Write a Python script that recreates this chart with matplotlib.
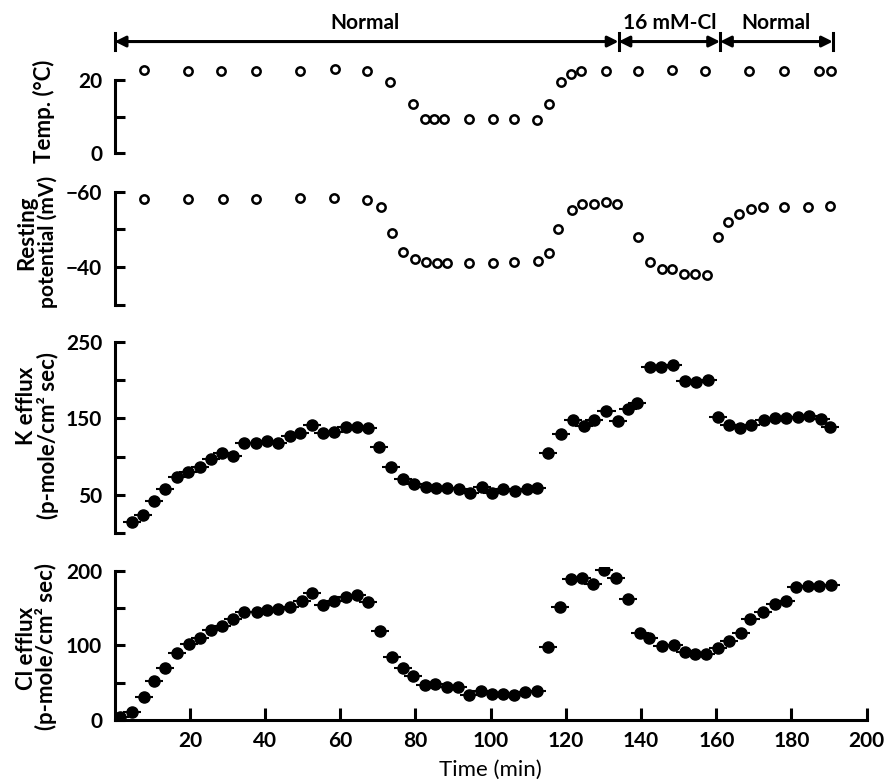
import matplotlib.pyplot as plt
import matplotlib.transforms as mtransforms

plt.rcParams['font.family'] = ['Lato', 'DejaVu Sans']
plt.rcParams['font.weight'] = 'bold'

# Temperature (open circles)
temp_t = [7.8, 19.6, 28.3, 37.6, 49.4, 58.5, 67.2, 73.2, 79.4, 82.5, 84.9, 87.6, 94.2, 100.5,
          106.3, 112.2, 115.6, 118.7, 121.3, 124.0, 130.7, 139.3, 148.2, 157.0, 168.6, 178.0,
          187.2, 190.5]
temp_c = [22.7, 22.4, 22.4, 22.4, 22.4, 23.0, 22.4, 19.5, 13.4, 9.4, 9.4, 9.4, 9.4, 9.4,
          9.4, 9.1, 13.4, 19.5, 21.6, 22.3, 22.4, 22.4, 22.7, 22.4, 22.4, 22.4, 22.4, 22.4]

# Resting potential (open circles)
pot_t = [7.8, 19.6, 28.7, 37.6, 49.4, 58.2, 67.2, 70.7, 73.7, 76.8, 79.9, 82.7, 85.6, 88.5,
         94.2, 100.5, 106.3, 112.6, 115.4, 117.9, 121.5, 124.3, 127.5, 130.7, 133.7, 139.2,
         142.5, 145.6, 148.2, 151.3, 154.4, 157.4, 160.4, 163.1, 166.0, 169.2, 172.3, 178.0,
         184.3, 190.2]
pot_mv = [-58.0, -58.0, -58.0, -58.0, -58.2, -58.3, -57.8, -55.8, -49.0, -44.1, -42.3, -41.3,
          -41.0, -41.0, -41.2, -41.2, -41.4, -41.6, -43.7, -50.1, -55.2, -56.8, -56.8, -57.2,
          -56.8, -48.1, -41.3, -39.5, -39.5, -38.2, -38.3, -38.0, -48.1, -51.9, -54.0, -55.3,
          -55.8, -55.8, -55.8, -56.2]

# K efflux (filled circles)
k_t = [4.7, 7.6, 10.5, 13.4, 16.6, 19.6, 22.7, 25.5, 28.5, 31.5, 34.5, 37.5, 40.4, 43.5,
       46.6, 49.3, 52.4, 55.3, 58.4, 61.5, 64.4, 67.4, 70.3, 73.5, 76.8, 79.7, 82.8, 85.5,
       88.5, 91.6, 94.5, 97.6, 100.3, 103.2, 106.5, 109.6, 112.4, 115.3, 118.7, 122.0, 124.8,
       127.6, 130.8, 133.8, 136.6, 139.0, 142.5, 145.2, 148.4, 151.7, 154.5, 157.7, 160.5,
       163.4, 166.3, 169.2, 172.7, 175.6, 178.5, 181.8, 184.7, 187.8, 190.2]
k_flux = [14.4, 23.9, 42.2, 57.8, 73.9, 80.4, 86.1, 97.4, 105.2, 100.9, 117.4, 117.4, 120.4,
          118.2, 127.0, 130.5, 141.3, 130.5, 131.8, 139.1, 138.3, 137.0, 112.2, 86.1, 70.9,
          64.3, 60.9, 58.7, 58.7, 57.4, 52.2, 60.9, 52.2, 57.8, 55.7, 57.4, 58.7, 105.2, 129.6,
          147.8, 140.0, 147.8, 160.0, 146.9, 161.7, 169.6, 217.3, 216.6, 219.6, 199.1, 197.0,
          200.0, 151.3, 141.3, 137.0, 141.3, 147.8, 150.0, 150.9, 151.3, 153.5, 149.1, 138.3]

# Cl efflux (filled circles)
cl_t = [1.4, 4.5, 7.8, 10.5, 13.4, 16.6, 19.8, 22.7, 25.5, 28.5, 31.5, 34.5, 37.8, 40.4,
        43.5, 46.6, 49.7, 52.4, 55.3, 58.4, 61.5, 64.4, 67.4, 70.6, 73.7, 76.8, 79.4, 82.5,
        85.2, 88.3, 91.4, 94.3, 97.3, 100.4, 103.2, 106.2, 109.1, 112.4, 115.3, 118.4, 121.3,
        124.2, 127.3, 130.1, 133.3, 136.4, 139.7, 142.2, 145.5, 148.8, 151.7, 154.3, 157.3,
        160.4, 163.4, 166.5, 169.1, 172.5, 175.6, 178.5, 181.2, 184.3, 187.4, 190.5]
cl_flux = [4.5, 10.3, 31.3, 52.7, 69.2, 89.3, 101.3, 109.4, 120.5, 125.9, 134.8, 145.0, 145.0,
           147.3, 148.2, 151.7, 159.4, 170.5, 154.0, 159.4, 165.1, 167.4, 158.4, 119.6, 84.0,
           69.2, 58.9, 46.9, 48.2, 43.8, 44.6, 33.5, 39.2, 34.8, 34.8, 33.5, 37.1, 39.2, 97.4,
           151.7, 188.4, 189.8, 182.1, 200.9, 190.6, 161.6, 116.1, 110.2, 99.1, 100.4, 91.5,
           88.4, 88.4, 96.0, 106.2, 116.1, 135.3, 145.0, 155.3, 159.4, 177.7, 179.5, 179.5, 180.8]

# Solution periods along the top
period_edges = [0, 134, 161, 191]
period_labels = ['Normal', '16 mM-Cl', 'Normal']
period_label_x = [66.6, 147.7, 176.0]

fig = plt.figure(figsize=(8.85, 7.84), dpi=100)
L, W = 0.1296, 0.8497
ax_temp = fig.add_axes([L, 0.8045, W, 0.117])
ax_pot = fig.add_axes([L, 0.611, W, 0.1494])
ax_k = fig.add_axes([L, 0.3198, W, 0.2494])
ax_cl = fig.add_axes([L, 0.0816, W, 0.1953])

for ax in (ax_temp, ax_pot, ax_k, ax_cl):
    ax.set_xlim(0, 200)
    for s in ('top', 'right', 'bottom'):
        ax.spines[s].set_visible(False)
    ax.spines['left'].set_linewidth(2.2)
    ax.tick_params(axis='y', direction='in', length=7, width=2.2, pad=9, labelsize=15)
    ax.set_xticks([])

ax_temp.plot(temp_t, temp_c, 'o', ms=6, mfc='white', mec='black', mew=1.8)
ax_temp.set_ylim(0, 25)
ax_temp.spines['left'].set_bounds(0, 20)
ax_temp.set_yticks([0, 10, 20], ['0', '', '20'])

ax_pot.plot(pot_t, pot_mv, 'o', ms=6, mfc='white', mec='black', mew=1.8)
ax_pot.set_ylim(-30, -61)
ax_pot.spines['left'].set_bounds(-60, -30)
ax_pot.set_yticks([-60, -50, -40, -30], ['\u221260', '', '\u221240', ''])

ax_k.errorbar(k_t, k_flux, xerr=2.4, fmt='o', color='black', ms=8, elinewidth=1.5, capsize=0)
ax_k.set_ylim(0, 255)
ax_k.spines['left'].set_bounds(0, 250)
ax_k.set_yticks([0, 50, 100, 150, 200, 250], ['', '50', '', '150', '', '250'])

ax_cl.errorbar(cl_t, cl_flux, xerr=2.4, fmt='o', color='black', ms=8, elinewidth=1.5, capsize=0)
ax_cl.set_ylim(0, 205)
ax_cl.spines['left'].set_bounds(0, 200)
ax_cl.set_yticks([0, 50, 100, 150, 200], ['0', '', '100', '', '200'])
ax_cl.spines['bottom'].set_visible(True)
ax_cl.spines['bottom'].set_linewidth(2.2)
ax_cl.spines['bottom'].set_bounds(0, 200)
ax_cl.set_xticks(range(20, 201, 20))
ax_cl.tick_params(axis='x', direction='in', length=9, width=2.2, pad=8, labelsize=15)
ax_cl.set_xlabel('Time (min)', fontsize=16, labelpad=6)

# y-axis labels
fig.text(0.050, 0.858, 'Temp. (\u00b0C)', rotation=90, ha='center', va='center', fontsize=16)
fig.text(0.030, 0.703, 'Resting', rotation=90, ha='center', va='center', fontsize=16)
fig.text(0.054, 0.692, 'potential (mV)', rotation=90, ha='center', va='center', fontsize=15)
fig.text(0.030, 0.483, 'K efflux', rotation=90, ha='center', va='center', fontsize=16)
fig.text(0.054, 0.444, '(p-mole/cm\u00b2 sec)', rotation=90, ha='center', va='center', fontsize=16)
fig.text(0.030, 0.173, 'Cl efflux', rotation=90, ha='center', va='center', fontsize=16)
fig.text(0.052, 0.175, '(p-mole/cm\u00b2 sec)', rotation=90, ha='center', va='center', fontsize=16)

# period arrows across the top
trans = mtransforms.blended_transform_factory(ax_temp.transData, fig.transFigure)
bar_y = 0.947
for i in range(len(period_labels)):
    x0, x1 = period_edges[i], period_edges[i + 1]
    ax_temp.annotate('', xy=(x1, bar_y), xytext=(x0, bar_y), xycoords=trans, textcoords=trans,
                     arrowprops=dict(arrowstyle='<|-|>', color='black', lw=2.2,
                                     mutation_scale=16, shrinkA=0, shrinkB=0),
                     annotation_clip=False)
    ax_temp.text(period_label_x[i], 0.971, period_labels[i], transform=trans,
                 ha='center', va='center', fontsize=15)
for e in period_edges:
    ax_temp.plot([e, e], [bar_y - 0.011, bar_y + 0.011], color='black', lw=2.2,
                 transform=trans, clip_on=False)

fig.savefig('out.png', dpi=100)
